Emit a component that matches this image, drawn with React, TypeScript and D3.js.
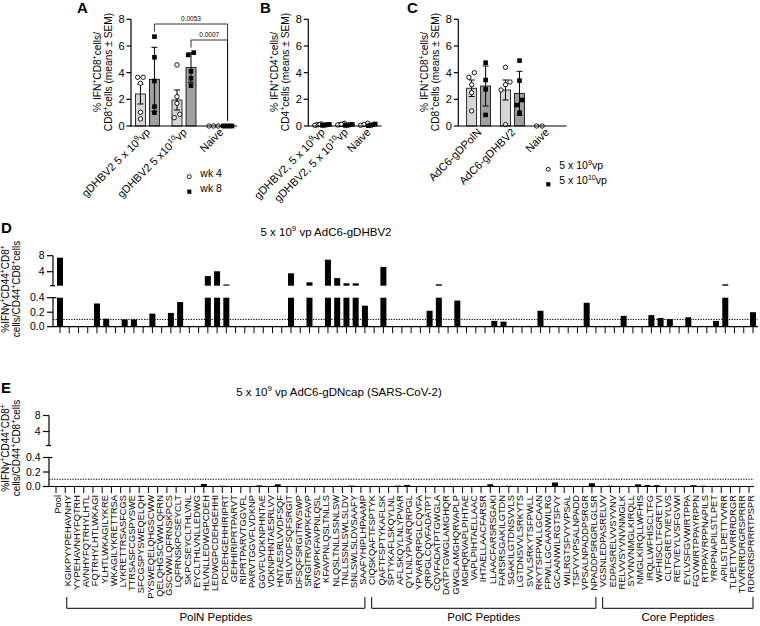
import React from "react";
import * as d3 from "d3";

const FONT = "'Liberation Sans', Arial, Helvetica, sans-serif";

// ---------- Panel A ----------
const A_GROUPS = ["gDHBV2 5 x 10^{9}vp", "gDHBV2 5 x10^{10}vp", "Naive"];
const A_WK4_POINTS = [[3.65, 3.65, 3.2, 1.03, 0.53], [4.58, 2.2, 1.7, 0.88, 0.62], [0, 0, 0]];
const A_WK8_POINTS = [[6.7, 5.15, 3.37, 1.45, 1.0], [5.5, 5.33, 4.1, 3.58, 3.03], [0, 0, 0, 0, 0]];
const A_WK4_MEAN = [2.4, 1.95, 0];
const A_WK4_SEM = [0.75, 0.75, 0];
const A_WK8_MEAN = [3.5, 4.38, 0];
const A_WK8_SEM = [2.4, 1.1, 0];
const A_PVALUES = [
  { from: 0, to: 2, label: "0.0053" },
  { from: 1, to: 2, label: "0.0007" },
];
const A_LEGEND = ["wk 4", "wk 8"];

// ---------- Panel B ----------
const B_GROUPS = ["gDHBV2, 5 x 10^{9}vp", "gDHBV2, 5 x 10^{10}vp", "Naive"];
const B_WK4_POINTS = [[0.1, 0.15, 0.08, 0.12, 0.05], [0.2, 0.1, 0.15, 0.08, 0.12], [0.05, 0.12, 0.2]];
const B_WK8_POINTS = [[0.06, 0.1, 0.08, 0.12, 0.05], [0.1, 0.05, 0.08, 0.12, 0.06], [0.02, 0.15, 0.05, 0.1]];
const B_WK4_MEAN = [0.1, 0.13, 0.12];
const B_WK4_SEM = [0.02, 0.02, 0.04];
const B_WK8_MEAN = [0.08, 0.08, 0.08];
const B_WK8_SEM = [0.01, 0.01, 0.03];

// ---------- Panel C ----------
const C_GROUPS = ["AdC6-gDPolN", "AdC6-gDHBV2", "Naive"];
const C_LOW_POINTS = [[4.0, 3.65, 3.1, 2.5, 1.13], [4.4, 3.3, 3.1, 2.7, 0.1], [0, 0]];
const C_HIGH_POINTS = [[4.75, 3.45, 2.75, 0.83], [4.9, 3.4, 1.95, 1.57, 1.0], []];
const C_LOW_MEAN = [2.83, 2.7, 0];
const C_LOW_SEM = [0.62, 0.75, 0];
const C_HIGH_MEAN = [3.0, 2.45, 0];
const C_HIGH_SEM = [1.5, 1.65, 0];
const C_LEGEND = ["5 x 10^{9}vp", "5 x 10^{10}vp"];

const ABC_TICKS = [0, 2, 4, 6, 8];

// ---------- Panels D / E ----------
const PEPTIDES = [
  "Pool",
  "KGIKPYYPEHAVNHY", "YYPEHAVNHYFQTRH", "AVNHYFQTRHYLHTL", "FQTRHYLHTLWKAGI", "YLHTLWKAGILYKRE",
  "WKAGILYKRETTRSA", "LYKRETTRSASFCGS", "TTRSASFCGSPYSWE", "SFCGSPYSWEQELQH", "PYSWEQELQHGSCWW",
  "QELQHGSCWWLQFRN", "GSCWWLQFRNSKPCS", "LQFRNSKPCSEYCLT", "SKPCSEYCLTHLVNL", "EYCLTHLVNLLEDWG",
  "HLVNLLEDWGPCDEH", "LEDWGPCDEHGEHHI", "PCDEHGEHHIRIPRT", "GEHHIRIPRTPARVT", "RIPRTPARVTGGVFL",
  "PARVTGGVFLVDKNP", "GGVFLVDKNPHNTAE", "VDKNPHNTAESRLVV", "HNTAESRLVVDFSQF", "SRLVVDFSQFSRGIT",
  "DFSQFSRGITRVSWP", "SRGITRVSWPKFAVP", "RVSWPKFAVPNLQSL", "KFAVPNLQSLTNLLS", "NLQSLTNLLSSNLSW",
  "TNLLSSNLSWLSLDV", "SNLSWLSLDVSAAFY", "SAAFYHIPLHPAAMP", "CIQSKQAFTFSPTYK", "QAFTFSPTYKAFLSK",
  "SPTYKAFLSKQYLNL", "AFLSKQYLNLYPVAR", "QYLNLYPVARQRPGL", "YPVARQRPGLCQVFA", "QRPGLCQVFADATPT",
  "CQVFADATPTGWGLA", "DATPTGWGLAMGHQR", "GWGLAMGHQRVAPLP", "MGHQRVAPLPIHTAE", "VAPLPIHTAELLAAC",
  "IHTAELLAACFARSR", "LLAACFARSRSGAKI", "FARSRSGAKILGTDN", "SGAKILGTDNSVVLS", "LGTDNSVVLSRKYTS",
  "SVVLSRKYTSFPWLL", "RKYTSFPWLLGCAAN", "FPWLLGCAANWILRG", "GCAANWILRGTSFVY", "WILRGTSFVYVPSAL",
  "TSFVYVPSALNPADD", "VPSALNPADDPSRGR", "NPADDPSRGRLGLSR", "VGSNLEDPASRELVV", "EDPASRELVVSYVNV",
  "RELVVSYVNVNMGLK", "SYVNVNMGLKIRQLL", "NMGLKIRQLLWFHIS", "IRQLLWFHISCLTFG", "WFHISCLTFGRETVI",
  "CLTFGRETVIEYLVS", "RETVIEYLVSFGVWI", "EYLVSFGVWIRTPPA", "FGVWIRTPPAYRPPN", "RTPPAYRPPNAPILS",
  "YRPPNAPILSTLPET", "APILSTLPETTVVRR", "TLPETTVVRRRDRGR", "TVVRRRDRGRSPRRR", "RDRGRSPRRRTPSPR",
];

const D_VALUES = [
  7.5, 0, 0, 0, 0.32, 0.11, 0, 0.1, 0.1, 0,
  0.18, 0, 0.19, 0.34, 0, 0, 2.9, 4.1, 0.8, 0,
  0, 0, 0, 0, 0, 3.6, 0, 1.35, 0, 7.0,
  2.4, 1.1, 1.1, 0.29, 0, 5.2, 0, 0, 0, 0,
  0.22, 0.85, 0, 0.36, 0, 0, 0, 0.08, 0.07, 0,
  0, 0, 0.22, 0, 0, 0, 0, 0.33, 0, 0,
  0, 0.15, 0, 0, 0.16, 0.12, 0.105, 0, 0.13, 0,
  0, 0.08, 0.85, 0, 0, 0.2,
];

const E_VALUES = [
  0, 0, 0, 0, 0, 0, 0, 0, 0, 0.006,
  0, 0, 0, 0.006, 0, 0, 0.035, 0, 0.01, 0,
  0, 0, 0.015, 0, 0.03, 0, 0, 0, 0, 0,
  0, 0, 0.012, 0, 0, 0, 0, 0.012, 0.022, 0,
  0, 0, 0, 0, 0, 0, 0, 0.03, 0, 0.01,
  0, 0, 0, 0, 0.055, 0, 0, 0, 0.045, 0,
  0.01, 0, 0, 0.03, 0.02, 0.018, 0, 0, 0, 0.018,
  0.01, 0, 0.008, 0, 0, 0,
];

const PEPTIDE_GROUPS = [
  { name: "PolN Peptides", first: 1, last: 33 },
  { name: "PolC Peptides", first: 34, last: 58 },
  { name: "Core Peptides", first: 59, last: 75 },
];

const LOW_TICKS = [0, 0.2, 0.4];
const HIGH_TICKS = [4, 8];
const THRESHOLD = 0.1;

const D_TITLE = "5 x 10^{9} vp AdC6-gDHBV2";
const E_TITLE = "5 x 10^{9} vp AdC6-gDNcap (SARS-CoV-2)";
const DE_YLABEL = ["%IFNγ^{+}CD44^{+}CD8^{+}", "cells/CD44^{+}CD8^{+}cells"];

// ---------- helpers ----------
function rich(s: string, fs: number) {
  const parts: React.ReactNode[] = [];
  const re = /\^\{([^}]*)\}/g;
  let last = 0;
  let k = 0;
  let shifted = false;
  let m: RegExpExecArray | null;
  const sh = fs * 0.38;
  while ((m = re.exec(s))) {
    if (m.index > last) {
      parts.push(
        <tspan key={k++} dy={shifted ? sh : 0}>
          {s.slice(last, m.index)}
        </tspan>
      );
      shifted = false;
    }
    parts.push(
      <tspan key={k++} dy={shifted ? 0 : -sh} fontSize={fs * 0.68}>
        {m[1]}
      </tspan>
    );
    shifted = true;
    last = re.lastIndex;
  }
  if (last < s.length) {
    parts.push(
      <tspan key={k++} dy={shifted ? sh : 0}>
        {s.slice(last)}
      </tspan>
    );
  }
  return parts;
}

function swarm(values: number[], y: (v: number) => number, d: number, maxSpread: number) {
  const order = values.map((_, i) => i).sort((a, b) => values[a] - values[b]);
  const off = new Array(values.length).fill(0);
  let cluster: number[] = [];
  const flush = () => {
    const n = cluster.length;
    const step = n > 1 ? Math.min(d, maxSpread / (n - 1)) : 0;
    cluster.forEach((i, k) => (off[i] = (k - (n - 1) / 2) * step));
    cluster = [];
  };
  for (const i of order) {
    if (cluster.length && Math.abs(y(values[i]) - y(values[cluster[cluster.length - 1]])) >= d) flush();
    cluster.push(i);
  }
  flush();
  return off;
}

type Series = {
  means: number[];
  sems: number[];
  points: number[][];
  fill: string;
  shape: "circle" | "square";
};

const Y0 = 126;
const Y8 = 19.3;

function Marker({ shape, x, y, s = 1 }: { shape: string; x: number; y: number; s?: number }) {
  if (shape === "circle")
    return <circle cx={x} cy={y} r={2.2 * s} fill="#fff" stroke="#000" strokeWidth={0.9} />;
  const w = 4.6 * s;
  return <rect x={x - w / 2} y={y - w / 2} width={w} height={w} fill="#000" />;
}

function GroupedPanel(props: {
  axisX: number;
  xEnd: number;
  groups: string[];
  series: Series[];
  padding: number;
  barW: number;
  subOff: number;
  spread: number;
  ylabel: [string, string];
  letter: string;
  letterX: number;
  brackets?: { from: number; to: number; label: string }[];
  legend?: { items: string[]; x: number; y: number };
}) {
  const { axisX, xEnd, groups, series, barW, subOff } = props;
  const y = d3.scaleLinear().domain([0, 8]).range([Y0, Y8]);
  const x = d3.scalePoint<string>().domain(groups).range([axisX, xEnd]).padding(props.padding);
  const ns = series.length;
  const subX = (gi: number, si: number) => (x(groups[gi]) as number) + (si - (ns - 1) / 2) * 2 * subOff;
  const bracketLevels = [24, 40];
  const fs = 10.2;
  const xfs = 11;
  return (
    <g>
      <text x={props.letterX} y={13} fontSize={15} fontWeight="bold">
        {props.letter}
      </text>
      {/* y label */}
      {props.ylabel.map((l, i) => (
        <text
          key={i}
          transform={`translate(${axisX - 30.5 + i * 11.5},72) rotate(-90)`}
          textAnchor="middle"
          dy="0.35em"
          fontSize={fs}
        >
          {rich(l, fs)}
        </text>
      ))}
      {/* bars */}
      {series.map((s, si) =>
        groups.map((g, gi) =>
          s.means[gi] > 0 ? (
            <rect
              key={`b${si}${gi}`}
              x={subX(gi, si) - barW / 2}
              y={y(s.means[gi])}
              width={barW}
              height={Y0 - y(s.means[gi])}
              fill={s.fill}
              stroke="#000"
              strokeWidth={0.8}
            />
          ) : null
        )
      )}
      {/* error bars */}
      {series.map((s, si) =>
        groups.map((g, gi) => {
          if (!(s.sems[gi] > 0)) return null;
          const cx = subX(gi, si);
          const t = y(s.means[gi] + s.sems[gi]);
          const b = y(Math.max(0, s.means[gi] - s.sems[gi]));
          const cw = Math.min(3, barW / 2);
          return (
            <g key={`e${si}${gi}`} stroke="#000" strokeWidth={1}>
              <line x1={cx} x2={cx} y1={t} y2={b} />
              <line x1={cx - cw} x2={cx + cw} y1={t} y2={t} />
              <line x1={cx - cw} x2={cx + cw} y1={b} y2={b} />
            </g>
          );
        })
      )}
      {/* points */}
      {series.map((s, si) =>
        groups.map((g, gi) => {
          const pts = s.points[gi] || [];
          const off = swarm(pts, y, 5.5, props.spread);
          return pts.map((v, pi) => (
            <Marker key={`p${si}${gi}${pi}`} shape={s.shape} x={subX(gi, si) + off[pi]} y={y(v)} />
          ));
        })
      )}
      {/* axes */}
      <g stroke="#000" strokeWidth={1.2}>
        <line x1={axisX} x2={axisX} y1={Y0 + 0.6} y2={y(8)} />
        <line x1={axisX} x2={xEnd} y1={Y0} y2={Y0} />
        {ABC_TICKS.map((t) => (
          <line key={t} x1={axisX - 4.5} x2={axisX} y1={y(t)} y2={y(t)} />
        ))}
      </g>
      {ABC_TICKS.map((t) => (
        <text key={t} x={axisX - 6.5} y={y(t)} dy="0.36em" textAnchor="end" fontSize={11}>
          {t}
        </text>
      ))}
      {/* x labels */}
      {groups.map((g) => (
        <text
          key={g}
          transform={`translate(${(x(g) as number) + 3.5},${Y0 + 7}) rotate(-45)`}
          textAnchor="end"
          fontSize={xfs}
        >
          {rich(g, xfs)}
        </text>
      ))}
      {/* significance brackets */}
      {(props.brackets || []).map((br, k) => {
        const si = ns - 1;
        const x1 = subX(br.from, si);
        const x2 = subX(br.to, si);
        const ly = bracketLevels[k];
        const top = (gi: number) => {
          const s = series[si];
          const vals = [...(s.points[gi] || []), s.means[gi] + s.sems[gi]];
          return y(Math.max(...vals)) - 5;
        };
        return (
          <g key={k}>
            <path
              d={`M${x1},${top(br.from)}V${ly}H${x2}V${top(br.to)}`}
              fill="none"
              stroke="#000"
              strokeWidth={0.8}
            />
            <text x={(x1 + x2) / 2} y={ly - 3} textAnchor="middle" fontSize={6.5}>
              {br.label}
            </text>
          </g>
        );
      })}
      {/* legend */}
      {props.legend &&
        props.legend.items.map((it, i) => (
          <g key={it}>
            <Marker shape={series[i].shape} x={props.legend!.x} y={props.legend!.y + i * 15} s={0.9} />
            <text x={props.legend!.x + 11} y={props.legend!.y + i * 15} dy="0.36em" fontSize={10.5}>
              {rich(it, 10.5)}
            </text>
          </g>
        ))}
    </g>
  );
}

function PeptidePanel(props: {
  values: number[];
  axisX: number;
  x0: number;
  x1: number;
  axisEnd: number;
  y0: number;
  title: string;
  titleX: number;
  letter: string;
  labelCenterY: number;
  showLabels: boolean;
}) {
  const { values, axisX, y0 } = props;
  const x = d3.scalePoint<string>().domain(PEPTIDES).range([props.x0, props.x1]);
  const yLow = d3.scaleLinear().domain([0, 0.4]).range([y0, y0 - 29]);
  const yHigh = d3.scaleLinear().domain([0.5, 8]).range([y0 - 41, y0 - 71]);
  const bw = 6;
  const fs = 10;
  return (
    <g>
      <text x={1} y={y0 - 93.5} fontSize={15} fontWeight="bold">
        {props.letter}
      </text>
      <text x={props.titleX} y={y0 - 91} textAnchor="middle" fontSize={11.5}>
        {rich(props.title, 11.5)}
      </text>
      {DE_YLABEL.map((l, i) => (
        <text
          key={i}
          transform={`translate(${9 + i * 11},${props.labelCenterY}) rotate(-90)`}
          textAnchor="middle"
          dy="0.35em"
          fontSize={fs}
        >
          {rich(l, fs)}
        </text>
      ))}
      {/* threshold */}
      <line
        x1={axisX}
        x2={props.axisEnd}
        y1={yLow(THRESHOLD)}
        y2={yLow(THRESHOLD)}
        stroke="#000"
        strokeWidth={1}
        strokeDasharray="1.3 1.3"
      />
      {/* bars */}
      {PEPTIDES.map((p, i) => {
        const v = values[i];
        if (!(v > 0)) return null;
        const cx = x(p) as number;
        const lowTop = yLow(Math.min(v, 0.4));
        return (
          <g key={p} fill="#000">
            <rect x={cx - bw / 2} y={lowTop} width={bw} height={y0 - lowTop} />
            {v > 0.5 && (
              <rect
                x={cx - bw / 2}
                y={yHigh(Math.min(v, 8))}
                width={bw}
                height={yHigh(0.5) - yHigh(Math.min(v, 8))}
              />
            )}
          </g>
        );
      })}
      {/* axes */}
      <g stroke="#000" strokeWidth={1.2} fill="none">
        <line x1={axisX} x2={axisX} y1={yHigh(8)} y2={yHigh(0.5)} />
        <line x1={axisX - 3} x2={axisX + 2} y1={yHigh(0.5)} y2={yHigh(0.5)} />
        {HIGH_TICKS.map((t) => (
          <line key={t} x1={axisX - 6} x2={axisX} y1={yHigh(t)} y2={yHigh(t)} />
        ))}
        <line x1={axisX} x2={axisX} y1={yLow(0.4)} y2={y0} />
        <line x1={axisX} x2={axisX + 3.5} y1={yLow(0.4)} y2={yLow(0.4)} />
        {LOW_TICKS.map((t) => (
          <line key={t} x1={axisX - 6} x2={axisX} y1={yLow(t)} y2={yLow(t)} />
        ))}
        <line x1={axisX} x2={props.axisEnd} y1={y0} y2={y0} />
        {PEPTIDES.map((p) => (
          <line key={p} x1={x(p)} x2={x(p)} y1={y0} y2={y0 + 6.5} strokeWidth={1} />
        ))}
      </g>
      {HIGH_TICKS.map((t) => (
        <text key={t} x={axisX - 8.5} y={yHigh(t)} dy="0.36em" textAnchor="end" fontSize={10.5}>
          {t}
        </text>
      ))}
      {LOW_TICKS.map((t) => (
        <text key={t} x={axisX - 8.5} y={yLow(t)} dy="0.36em" textAnchor="end" fontSize={10.5}>
          {t.toFixed(1)}
        </text>
      ))}
      {props.showLabels && (
        <g>
          {PEPTIDES.map((p) => (
            <text
              key={p}
              transform={`translate(${(x(p) as number) + 5.3},${y0 + 8.5}) rotate(-90)`}
              textAnchor="end"
              fontSize={9.3}
            >
              {p}
            </text>
          ))}
          {PEPTIDE_GROUPS.map((g) => {
            const a = (x(PEPTIDES[g.first]) as number) + 1.5;
            const b = (x(PEPTIDES[g.last]) as number) + 4;
            return (
              <g key={g.name}>
                <path d={`M${a},597V608.3H${b}V597`} fill="none" stroke="#000" strokeWidth={1} />
                <text x={(a + b) / 2} y={621} textAnchor="middle" fontSize={11.5}>
                  {g.name}
                </text>
              </g>
            );
          })}
        </g>
      )}
    </g>
  );
}

export default function App() {
  const LIGHT = "#d6d6d6";
  const DARK = "#a0a0a0";
  const seriesA: Series[] = [
    { means: A_WK4_MEAN, sems: A_WK4_SEM, points: A_WK4_POINTS, fill: LIGHT, shape: "circle" },
    { means: A_WK8_MEAN, sems: A_WK8_SEM, points: A_WK8_POINTS, fill: DARK, shape: "square" },
  ];
  const seriesB: Series[] = [
    { means: B_WK4_MEAN, sems: B_WK4_SEM, points: B_WK4_POINTS, fill: LIGHT, shape: "circle" },
    { means: B_WK8_MEAN, sems: B_WK8_SEM, points: B_WK8_POINTS, fill: DARK, shape: "square" },
  ];
  const seriesC: Series[] = [
    { means: C_LOW_MEAN, sems: C_LOW_SEM, points: C_LOW_POINTS, fill: LIGHT, shape: "circle" },
    { means: C_HIGH_MEAN, sems: C_HIGH_SEM, points: C_HIGH_POINTS, fill: DARK, shape: "square" },
  ];
  return (
    <svg
      width={760}
      height={626}
      style={{ position: "absolute", left: 0, top: 0, background: "#fff" }}
      fontFamily={FONT}
    >
      <rect width={760} height={626} fill="#fff" />
      <GroupedPanel
        axisX={131}
        xEnd={237}
        groups={A_GROUPS}
        series={seriesA}
        padding={0.45}
        barW={10}
        subOff={7}
        spread={9}
        ylabel={["% IFN^{+}CD8^{+}cells/", "CD8^{+}cells (means ± SEM)"]}
        letter="A"
        letterX={77}
        brackets={A_PVALUES}
        legend={{ items: A_LEGEND, x: 189.3, y: 176.7 }}
      />
      <GroupedPanel
        axisX={308.3}
        xEnd={381.7}
        groups={B_GROUPS}
        series={seriesB}
        padding={0.6}
        barW={5}
        subOff={3.8}
        spread={7}
        ylabel={["% IFN^{+}CD4^{+}cells/", "CD4^{+}cells (means ± SEM)"]}
        letter="B"
        letterX={260}
      />
      <GroupedPanel
        axisX={458.3}
        xEnd={566.7}
        groups={C_GROUPS}
        series={seriesC}
        padding={0.6}
        barW={10}
        subOff={7}
        spread={9}
        ylabel={["% IFN^{+}CD8^{+}cells/", "CD8^{+}cells (means ± SEM)"]}
        letter="C"
        letterX={407}
        legend={{ items: C_LEGEND, x: 548.3, y: 169.3 }}
      />
      <PeptidePanel
        values={D_VALUES}
        axisX={53}
        x0={60}
        x1={753}
        axisEnd={758}
        y0={326.7}
        title={D_TITLE}
        titleX={326}
        letter="D"
        labelCenterY={289}
        showLabels={false}
      />
      <PeptidePanel
        values={E_VALUES}
        axisX={49}
        x0={56}
        x1={749}
        axisEnd={754}
        y0={486.5}
        title={E_TITLE}
        titleX={339}
        letter="E"
        labelCenterY={448}
        showLabels={true}
      />
    </svg>
  );
}
